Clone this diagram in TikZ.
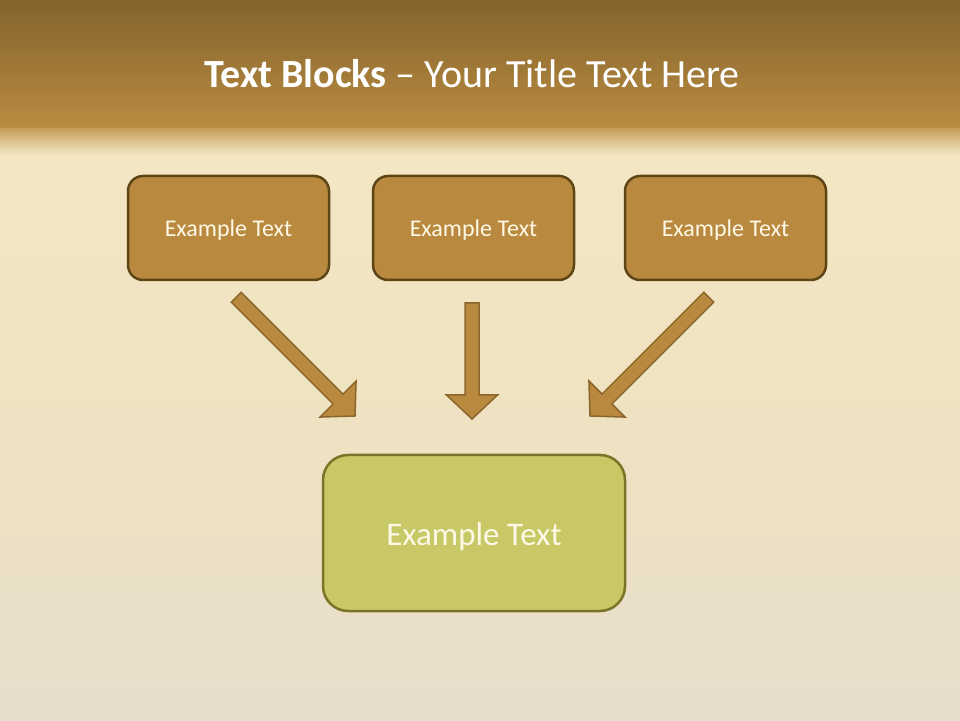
\documentclass[tikz,border=0pt]{standalone}
\usepackage{fontspec}
\setmainfont{Carlito}
\definecolor{hdrtop}{HTML}{84632C}
\definecolor{hdrbot}{HTML}{B98C41}
\definecolor{bgtop}{HTML}{F3E6C3}
\definecolor{bgmid}{HTML}{EEE2C2}
\definecolor{bgbot}{HTML}{E7DDCC}
\definecolor{boxfill}{HTML}{B8893F}
\definecolor{boxline}{HTML}{5E4516}
\definecolor{greenfill}{HTML}{C9C866}
\definecolor{greenline}{HTML}{7A7428}
\definecolor{arrline}{HTML}{8A662A}
\definecolor{txtcream}{HTML}{FFF8E6}
\tikzset{
  topbox/.style={draw=boxline, line width=2.5pt, fill=boxfill, rounded corners=15pt,
    minimum width=201pt, minimum height=104pt, inner sep=0pt, text=txtcream,
    text height=21.4pt, text depth=5pt,
    font=\fontsize{24}{28}\selectfont},
  bigbox/.style={draw=greenline, line width=2.5pt, fill=greenfill, rounded corners=25pt,
    minimum width=302pt, minimum height=156pt, inner sep=0pt, text=txtcream,
    text height=32pt, text depth=6.8pt,
    font=\fontsize{33}{38}\selectfont},
  titletext/.style={text=white, font=\fontsize{40}{46}\selectfont},
  arrowstyle/.style={fill=boxfill, draw=arrline, line width=1.5pt, line join=miter},
  pics/blockarrow/.style={code={
    \path[arrowstyle] (0,0) -- (-24,25.5) -- (-24,7) -- (-#1,7) -- (-#1,-7)
      -- (-24,-7) -- (-24,-25.5) -- cycle;
  }}
}
\begin{document}
\begin{tikzpicture}[x=1pt,y=1pt]
\useasboundingbox (0,0) rectangle (960,720);
% background
\shade[top color=bgtop, bottom color=bgbot, middle color=bgmid] (0,0) rectangle (960,565);
\shade[top color=hdrbot!80!bgtop, bottom color=bgtop] (0,565) rectangle (960,592);
\shade[top color=hdrtop, bottom color=hdrbot] (0,592) rectangle (960,720);
% title
\node[titletext] (title) at (472,646) {\textbf{Text Blocks} – Your Title Text Here};
% boxes
\node[topbox] (b1) at (228.5,492) {Example Text};
\node[topbox] (b2) at (473.5,492) {Example Text};
\node[topbox] (b3) at (725.5,492) {Example Text};
\node[bigbox] (b4) at (474,187) {Example Text};
% arrows
\coordinate (t1) at (355,304);
\coordinate (t2) at (472,301);
\coordinate (t3) at (590,304);
\pic[rotate=-45] at (t1) {blockarrow=168};
\pic[rotate=-90] at (t2) {blockarrow=116};
\pic[rotate=-135] at (t3) {blockarrow=168};
\end{tikzpicture}
\end{document}
